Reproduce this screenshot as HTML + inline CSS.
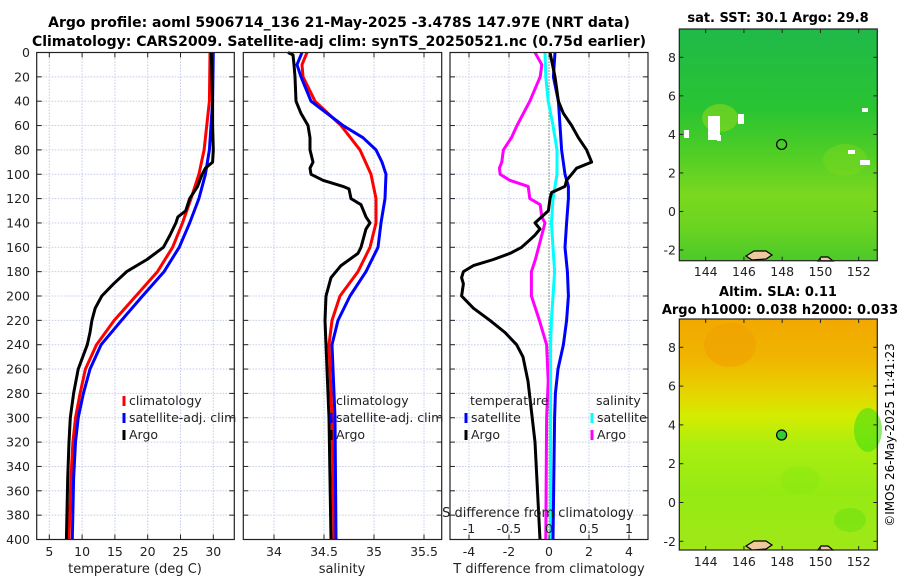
<!DOCTYPE html>
<html><head><meta charset="utf-8"><style>
body{margin:0;background:#fff;width:900px;height:580px;overflow:hidden}
svg{display:block;font-family:"DejaVu Sans","Liberation Sans",sans-serif}
</style></head><body>
<svg id="fig" width="900" height="580" viewBox="0 0 900 580">
<text x="339" y="27" text-anchor="middle" font-size="14" font-weight="bold">Argo profile: aoml 5906714_136 21-May-2025 -3.478S 147.97E (NRT data)</text>
<text x="339" y="46" text-anchor="middle" font-size="14" font-weight="bold">Climatology: CARS2009. Satellite-adj clim: synTS_20250521.nc (0.75d earlier)</text>
<g id="p1"></g>
<g id="p2"></g>
<g id="p3"></g>
<g id="m1"></g>
<g id="m2"></g>
<text transform="translate(894,435) rotate(-90)" text-anchor="middle" font-size="12">©IMOS 26-May-2025 11:41:23</text>
</svg>
<script>
// ---- data ----
const depthTicks = [0,20,40,60,80,100,120,140,160,180,200,220,240,260,280,300,320,340,360,380,400];
const tempTicks = [5,10,15,20,25,30];
const salTicks = [34,34.5,35,35.5];
const tdiffTicks = [-4,-2,0,2,4];
const sdiffTicks = [-1,-0.5,0,0.5,1];

const tClimDepth = [0,40,80,100,120,140,160,180,200,220,240,260,280,300,320,350,400];
const tClim = [29.5,29.4,28.6,27.8,26.6,25.3,23.8,21.5,18.2,14.9,12.2,10.5,9.7,9.0,8.6,8.3,8.0];
const tSatDepth = [0,40,80,100,120,140,160,180,200,220,240,260,280,300,320,350,400];
const tSat = [30.0,29.9,29.4,28.8,27.8,26.4,24.8,22.5,19.2,16.0,12.9,11.2,10.2,9.4,9.0,8.7,8.5];
const tArgoDepth = [0,40,60,80,90,95,100,110,120,130,135,140,150,160,170,180,190,200,210,220,230,240,260,280,300,320,350,400];
const tArgo = [29.7,29.9,29.9,30.0,29.9,28.8,28.3,27.6,26.4,25.8,24.6,24.3,23.4,22.4,19.9,16.8,14.8,13.0,12.0,11.5,11.2,10.8,9.4,8.7,8.2,8.0,7.8,7.6];

const sClimDepth = [0,10,20,40,60,80,100,120,140,160,180,200,220,240,300,400];
const sClim = [34.33,34.28,34.29,34.41,34.67,34.86,34.97,35.02,35.02,34.96,34.84,34.66,34.58,34.55,34.58,34.6];
const sSatDepth = [0,10,20,40,60,70,80,90,100,120,140,160,180,200,220,240,300,400];
const sSat = [34.28,34.23,34.27,34.37,34.69,34.89,35.02,35.08,35.12,35.11,35.07,35.04,34.92,34.76,34.64,34.58,34.61,34.62];
const sArgoDepth = [0,2,10,20,40,50,60,70,80,90,95,100,105,110,112,120,125,135,140,145,160,165,175,185,200,220,240,300,400];
const sArgo = [34.14,34.19,34.20,34.21,34.22,34.27,34.34,34.36,34.36,34.39,34.36,34.37,34.49,34.69,34.75,34.77,34.87,34.92,34.96,34.92,34.87,34.84,34.67,34.57,34.52,34.51,34.52,34.55,34.57];

const dTSatDepth = [0,20,40,60,80,100,110,120,140,160,180,200,220,240,260,280,300,400];
const dTSat = [0.3,0.22,0.47,0.55,0.63,0.8,0.97,0.97,0.88,0.8,0.92,0.97,0.88,0.72,0.45,0.32,0.28,0.2];
const dTArgoDepth = [0,20,40,50,60,70,80,90,95,100,105,110,115,120,130,140,145,150,155,160,165,170,175,180,185,190,200,210,220,230,240,250,270,320,400];
const dTArgo = [0.05,0.3,0.47,0.72,1.13,1.47,1.88,2.13,1.38,1.13,0.88,0.8,0.13,0.05,-0.03,-0.7,-0.45,-0.7,-1.03,-1.37,-1.95,-2.78,-3.78,-4.28,-4.37,-4.28,-4.37,-3.78,-2.95,-2.2,-1.62,-1.3,-1.05,-0.7,-0.45];
const dSSatDepth = [0,20,40,60,80,100,120,140,160,180,200,220,240,300,400];
const dSSat = [-0.05,-0.04,-0.01,0.05,0.1,0.1,0.05,0.03,0.05,0.07,0.05,0.03,0.02,0.02,0.02];
const dSArgoDepth = [0,10,20,40,60,70,80,90,95,100,105,110,120,125,135,140,150,160,170,180,200,220,240,270,300,400];
const dSArgo = [-0.175,-0.09,-0.11,-0.24,-0.4,-0.47,-0.57,-0.59,-0.62,-0.61,-0.49,-0.26,-0.24,-0.11,-0.09,-0.05,-0.09,-0.13,-0.17,-0.22,-0.22,-0.12,-0.03,-0.01,-0.03,-0.04];

const lonTicks = [144,146,148,150,152];
const latTicks = [8,6,4,2,0,-2];
const floatLon = [147.97];
const floatLat = [3.478];

// ---- helpers ----
const NS = "http://www.w3.org/2000/svg";
function mk(parent, tag, attrs, text){
  const e = document.createElementNS(NS, tag);
  for (const k in attrs) e.setAttribute(k, attrs[k]);
  if (text !== undefined) e.textContent = text;
  parent.appendChild(e);
  return e;
}
const Y0 = 52.5, Y1 = 539.5;
const yScale = d => Y0 + d/400*(Y1-Y0);

function panel(g, x0, x1, xs, xTicks, name){
  const grid = mk(g,'g',{});
  
  
  depthTicks.forEach(d=>{ if(d>0&&d<400) mk(grid,'line',{x1:x0,x2:x1,y1:yScale(d),y2:yScale(d),stroke:'#c4cbe8','stroke-width':1,'stroke-dasharray':'1.5,1.5'}); });
  xTicks.forEach(v=>{ mk(grid,'line',{x1:xs(v),x2:xs(v),y1:Y0,y2:Y1,stroke:'#c4cbe8','stroke-width':1,'stroke-dasharray':'1.5,1.5'}); });
}
function frame(g, x0, x1, xs, xTicks, fmt, name){
  const ax = mk(g,'g',{});
  
  
  mk(ax,'rect',{x:x0,y:Y0,width:x1-x0,height:Y1-Y0,fill:'none',stroke:'#222','stroke-width':1.2});
  depthTicks.forEach(d=>{
    const y=yScale(d);
    mk(ax,'line',{x1:x0,x2:x0+5,y1:y,y2:y,stroke:'#222'});
    mk(ax,'line',{x1:x1-5,x2:x1,y1:y,y2:y,stroke:'#222'});
  });
  xTicks.forEach(v=>{
    const x=xs(v);
    mk(ax,'line',{x1:x,x2:x,y1:Y0,y2:Y0+5,stroke:'#222'});
    mk(ax,'line',{x1:x,x2:x,y1:Y1-5,y2:Y1,stroke:'#222'});
    if (fmt){ const t=mk(ax,'text',{x:x,y:556,'text-anchor':'middle','font-size':12.5,fill:'#222'},fmt(v));
      
       }
  });
}
function series(g, xs, depths, vals, color, name){
  const pts = depths.map((d,i)=>xs(vals[i]).toFixed(1)+','+yScale(d).toFixed(1)).join(' ');
  const p = mk(g,'polyline',{points:pts,fill:'none',stroke:color,'stroke-width':3,'stroke-linejoin':'round'});
  
  
}
function legendItem(g, x, y, color, label, name){
  const it = mk(g,'g',{});
  
  
  if (color) mk(it,'line',{x1:x,x2:x,y1:y-9,y2:y+1,stroke:color,'stroke-width':3});
  mk(it,'text',{x:x+5,y:y,'font-size':12.5,fill:'#222'},label);
}

// ---- panel 1 ----
const p1=document.getElementById('p1');
const xT = v => 49.3 + (v-5)*6.56;
panel(p1,36.7,234.3,xT,tempTicks,'temperature');
series(p1,xT,tClimDepth,tClim,'#f00','temperature-climatology-line');
series(p1,xT,tSatDepth,tSat,'#00f','temperature-satellite-line');
series(p1,xT,tArgoDepth,tArgo,'#000','temperature-argo-line');
frame(p1,36.7,234.3,xT,tempTicks,v=>String(v),'temperature');
depthTicks.forEach(d=>{
  const t=mk(p1,'text',{x:30,y:yScale(d)+4.5,'text-anchor':'end','font-size':12.5,fill:'#222'},String(d));
  
  
});
mk(p1,'text',{x:135,y:573,'text-anchor':'middle','font-size':13,fill:'#222'},'temperature (deg C)');
legendItem(p1,124,405,'#f00','climatology','legend-climatology');
legendItem(p1,124,422,'#00f','satellite-adj. clim','legend-satellite');
legendItem(p1,124,439,'#000','Argo','legend-argo');

// ---- panel 2 ----
const p2=document.getElementById('p2');
const xS = v => 274 + (v-34)*100;
panel(p2,243.3,441.7,xS,salTicks,'salinity');
series(p2,xS,sClimDepth,sClim,'#f00','salinity-climatology-line');
series(p2,xS,sSatDepth,sSat,'#00f','salinity-satellite-line');
series(p2,xS,sArgoDepth,sArgo,'#000','salinity-argo-line');
frame(p2,243.3,441.7,xS,salTicks,v=>String(v),'salinity');
mk(p2,'text',{x:342,y:573,'text-anchor':'middle','font-size':13,fill:'#222'},'salinity');
legendItem(p2,331,405,'#f00','climatology','legend-climatology-2');
legendItem(p2,331,422,'#00f','satellite-adj. clim','legend-satellite-2');
legendItem(p2,331,439,'#000','Argo','legend-argo-2');

// ---- panel 3 ----
const p3=document.getElementById('p3');
const xD = v => 549 + v*20;
const xSD = v => 549 + v*80;
panel(p3,450,648,xD,tdiffTicks,'difference');
mk(p3,'line',{x1:549,x2:549,y1:Y0,y2:Y1,stroke:'#2a4a2a','stroke-width':1,'stroke-dasharray':'1,2'});
series(p3,xSD,dSArgoDepth,dSArgo,'#f0f','salinity-argo-diff-line');
series(p3,xSD,dSSatDepth,dSSat,'#0ff','salinity-satellite-diff-line');
series(p3,xD,dTSatDepth,dTSat,'#00f','temperature-satellite-diff-line');
series(p3,xD,dTArgoDepth,dTArgo,'#000','temperature-argo-diff-line');
frame(p3,450,648,xD,tdiffTicks,v=>String(v),'difference');
mk(p3,'text',{x:549,y:573,'text-anchor':'middle','font-size':13,fill:'#222'},'T difference from climatology');
mk(p3,'text',{x:538,y:517,'text-anchor':'middle','font-size':13,fill:'#222'},'S difference from climatology');
sdiffTicks.forEach(v=>{
  const t=mk(p3,'text',{x:xSD(v),y:533,'text-anchor':'middle','font-size':12.5,fill:'#222'},String(v));
  
  
});
legendItem(p3,465,405,null,'temperature','legend-temperature-header');
legendItem(p3,466,422,'#00f','satellite','legend-t-satellite');
legendItem(p3,466,439,'#000','Argo','legend-t-argo');
legendItem(p3,591,405,null,'salinity','legend-salinity-header');
legendItem(p3,592,422,'#0ff','satellite','legend-s-satellite');
legendItem(p3,592,439,'#f0f','Argo','legend-s-argo');

// ---- maps ----
function map(g, top, bottom, lat8y, pxLat, stops, name){
  const L=679.3, R=877.3;
  const lx = v => 705.7 + (v-144)*19.12;
  const ly = v => lat8y + (8-v)*pxLat;
  const defs = mk(g,'defs',{});
  const gr = mk(defs,'linearGradient',{id:name+'-grad',x1:0,y1:0,x2:0,y2:1});
  stops.forEach(s=>mk(gr,'stop',{offset:s[0],'stop-color':s[1]}));
  const bg = mk(g,'rect',{x:L,y:top,width:R-L,height:bottom-top,fill:'url(#'+name+'-grad)'});
  
  
  return {L,R,lx,ly};
}
const m1=document.getElementById('m1');
const a1=map(m1,29,260.7,57.3,19.27,[[0,'#1fb94a'],[0.35,'#2ac432'],[0.5,'#47cc28'],[0.72,'#7ad81e'],[0.85,'#6cd421'],[1,'#4cc92a']],'sst-map');
mk(m1,'ellipse',{cx:720,cy:118,rx:18,ry:14,fill:'#8ad81e',opacity:0.6});
mk(m1,'ellipse',{cx:845,cy:160,rx:22,ry:16,fill:'#7ad81e',opacity:0.5});
[[684,130,5,8],[708,116,12,24],[738,114,6,10],[862,108,6,4],[848,150,7,4],[860,160,10,5],[717,135,4,6]].forEach(r=>mk(m1,'rect',{x:r[0],y:r[1],width:r[2],height:r[3],fill:'#fff'}));
mk(m1,'circle',{cx:a1.lx(floatLon[0]),cy:a1.ly(floatLat[0]),r:5,fill:'none',stroke:'#000','stroke-width':1.2});
mk(m1,'path',{d:'M746 256 l8-5 12 0 6 4 -6 4 -14 1z',fill:'#f0c8a0',stroke:'#000','stroke-width':1.2});
mk(m1,'path',{d:'M818 261 l3-4 7 0 5 4z',fill:'#f0c8a0',stroke:'#000','stroke-width':1.2});
mk(m1,'rect',{x:a1.L,y:29,width:a1.R-a1.L,height:231.7,fill:'none',stroke:'#222','stroke-width':1.2});
mk(m1,'text',{x:778,y:22,'text-anchor':'middle','font-size':13,'font-weight':'bold'},'sat. SST: 30.1 Argo: 29.8');

const m2=document.getElementById('m2');
const a2=map(m2,319,550,347.3,19.4,[[0,'#f2a800'],[0.18,'#f0b600'],[0.3,'#e8d000'],[0.42,'#d4ec00'],[0.55,'#aaee10'],[0.75,'#96ea14'],[1,'#a0e818']],'sla-map');
mk(m2,'ellipse',{cx:730,cy:345,rx:26,ry:22,fill:'#f0a000',opacity:0.6});
mk(m2,'ellipse',{cx:868,cy:430,rx:14,ry:22,fill:'#44dd11',opacity:0.6});
mk(m2,'ellipse',{cx:850,cy:520,rx:16,ry:12,fill:'#66e010',opacity:0.5});
mk(m2,'ellipse',{cx:800,cy:480,rx:20,ry:14,fill:'#88ea10',opacity:0.5});
mk(m2,'circle',{cx:a2.lx(floatLon[0]),cy:a2.ly(floatLat[0]),r:5,fill:'#33cc33',stroke:'#000','stroke-width':1.2});
mk(m2,'path',{d:'M746 546 l8-5 12 0 6 4 -6 4 -14 1z',fill:'#f0c8a0',stroke:'#000','stroke-width':1.2});
mk(m2,'path',{d:'M818 550 l3-4 7 0 5 4z',fill:'#f0c8a0',stroke:'#000','stroke-width':1.2});
mk(m2,'rect',{x:a2.L,y:319,width:a2.R-a2.L,height:231,fill:'none',stroke:'#222','stroke-width':1.2});
mk(m2,'text',{x:778,y:296,'text-anchor':'middle','font-size':13,'font-weight':'bold'},'Altim. SLA: 0.11');
mk(m2,'text',{x:780,y:314,'text-anchor':'middle','font-size':13,'font-weight':'bold'},'Argo h1000: 0.038 h2000: 0.033');

[[a1,m1,29,260.7,276],[a2,m2,319,550,566]].forEach(([a,g,top,bot,ly])=>{
  lonTicks.forEach(v=>{
    const x=a.lx(v);
    mk(g,'line',{x1:x,x2:x,y1:bot-4,y2:bot,stroke:'#222'});
    mk(g,'line',{x1:x,x2:x,y1:top,y2:top+4,stroke:'#222'});
    const t=mk(g,'text',{x:x,y:ly,'text-anchor':'middle','font-size':12.5,fill:'#222'},String(v));
    
    
  });
  latTicks.forEach(v=>{
    const y=a.ly(v);
    mk(g,'line',{x1:a.L,x2:a.L+4,y1:y,y2:y,stroke:'#222'});
    mk(g,'line',{x1:a.R-4,x2:a.R,y1:y,y2:y,stroke:'#222'});
    const t=mk(g,'text',{x:676,y:y+4.5,'text-anchor':'end','font-size':12.5,fill:'#222'},String(v));
    
    
  });
});
</script>
</body></html>
